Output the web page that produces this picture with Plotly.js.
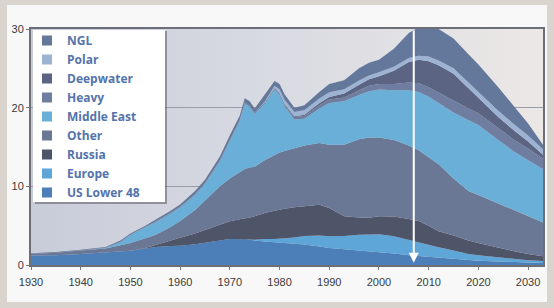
<!DOCTYPE html>
<html>
<head>
<meta charset="utf-8">
<script src="https://cdn.plot.ly/plotly-3.0.1.min.js"></script>
<style>
  html, body { margin:0; padding:0; background:#d9d4ce; }
  #wrap { position:relative; width:554px; height:308px; background:#d9d4ce; overflow:hidden; }
  #inner { position:absolute; left:7px; top:5px; width:540px; height:297px; background:#f8f8f8; }
  #chart { position:absolute; left:0; top:0; width:554px; height:308px; }
</style>
</head>
<body>
<div id="wrap"><div id="inner"></div><div id="chart"></div></div>
<script>
// ---- data (Gb per year) ----
const years      = [1930,1935,1940,1945,1948,1950,1953,1955,1958,1960,1963,1965,1968,1970,1972,1973,1974,1975,1977,1979,1980,1981,1983,1985,1988,1990,1993,1996,1998,2000,2003,2006,2008,2010,2012,2015,2018,2020,2024,2027,2030,2033];
const usLower48  = [1.2,1.25,1.4,1.6,1.75,1.8,2.1,2.3,2.4,2.45,2.65,2.8,3.1,3.3,3.3,3.3,3.2,3.1,3.0,2.9,2.85,2.8,2.7,2.6,2.35,2.15,2.0,1.85,1.7,1.6,1.45,1.25,1.15,1.0,0.9,0.75,0.6,0.55,0.45,0.38,0.3,0.25];
const europe     = [0,0,0,0,0,0,0,0,0,0,0,0,0,0,0,0.02,0.05,0.1,0.3,0.4,0.5,0.6,0.8,1.1,1.4,1.5,1.7,2.0,2.2,2.3,2.2,1.9,1.7,1.5,1.35,1.1,0.8,0.7,0.5,0.4,0.3,0.25];
const russia     = [0,0,0,0,0,0,0.05,0.2,0.6,1.0,1.35,1.65,1.95,2.25,2.5,2.58,2.8,3.0,3.3,3.6,3.7,3.75,3.85,3.8,3.9,3.6,2.5,2.2,2.1,2.3,2.5,2.7,2.75,2.5,2.05,1.9,1.7,1.55,1.25,1.0,0.8,0.6];
const other      = [0.2,0.3,0.45,0.5,0.75,1.0,1.25,1.3,1.8,2.15,3.0,3.75,4.95,5.45,6.0,6.3,6.35,6.3,6.7,7.1,7.25,7.35,7.55,7.7,7.85,8.05,9.1,9.95,10.2,10.0,9.75,9.35,9.0,8.7,8.5,7.25,6.3,6.1,5.6,5.22,4.8,4.3];
const middleEast = [0,0,0,0.05,0.4,1.0,1.4,1.6,1.7,1.7,1.9,2.1,3.2,4.8,6.5,8.3,7.7,6.7,7.2,8.3,7.3,5.7,3.6,3.4,4.4,5.3,5.5,5.6,5.9,6.1,6.3,7.0,7.4,7.7,7.8,8.4,9.0,8.9,8.1,7.5,7.1,6.8];
const heavy      = [0.02,0.02,0.02,0.03,0.05,0.05,0.05,0.1,0.1,0.1,0.1,0.1,0.1,0.15,0.15,0.15,0.15,0.15,0.15,0.2,0.2,0.25,0.3,0.35,0.4,0.45,0.5,0.6,0.7,0.7,0.8,1.0,1.1,1.2,1.3,1.5,1.5,1.5,1.5,1.5,1.5,1.3];
const deepwater  = [0,0,0,0,0,0,0,0,0,0,0,0,0,0,0,0,0,0,0,0,0.05,0.05,0.1,0.15,0.25,0.3,0.5,0.7,0.8,1.0,1.7,2.6,3.0,3.3,3.5,3.4,2.6,1.9,1.4,1.2,0.9,0.5];
const polar      = [0,0,0,0,0,0,0,0,0,0,0,0,0,0,0,0,0,0,0.1,0.3,0.5,0.5,0.55,0.6,0.6,0.6,0.55,0.55,0.5,0.5,0.5,0.5,0.5,0.6,0.6,0.7,0.7,0.8,0.8,0.8,0.75,0.7];
const ngl        = [0.08,0.08,0.08,0.12,0.15,0.15,0.15,0.2,0.25,0.3,0.4,0.45,0.5,0.55,0.55,0.55,0.55,0.55,0.85,0.6,0.65,0.7,0.55,0.6,0.85,1.05,1.15,1.55,1.6,1.6,2.3,3.2,3.6,3.8,4.0,3.8,3.6,3.5,3.0,2.3,1.55,0.6];

const seriesNames  = ['US Lower 48','Europe','Russia','Other','Middle East','Heavy','Deepwater','Polar','NGL'];
const seriesValues = [usLower48, europe, russia, other, middleEast, heavy, deepwater, polar, ngl];
const seriesColors = ['#4c7eb8','#5ea5d8','#4f5569','#6a7896','#69afd7','#6e7da0','#5b6583','#9cb3d4','#64789b'];

const xTicks = [1930,1940,1950,1960,1970,1980,1990,2000,2010,2020,2030];
const yTicks = [0,10,20,30];
const markerYear = 2007;

// ---- layout helpers (pixel -> paper) ----
const L = 31, R = 543, T = 29, B = 265, W = 554, H = 308;
const px = v => (v - L) / (R - L);
const py = v => (B - v) / (B - T);

const traces = [];
seriesNames.forEach((n, i) => {
  traces.push({
    x: years, y: seriesValues[i], type: 'scatter', mode: 'lines',
    stackgroup: 'oil', line: { width: 0 }, fillcolor: seriesColors[i],
    name: n, showlegend: false, hoverinfo: 'skip'
  });
});
// legend entries (top of stack first)
for (let i = seriesNames.length - 1; i >= 0; i--) {
  traces.push({
    x: [null], y: [null], type: 'scatter', mode: 'markers',
    marker: { symbol: 'square', size: 10, color: seriesColors[i] },
    name: seriesNames[i], showlegend: true
  });
}

const bgSvg = "<svg xmlns='http://www.w3.org/2000/svg' width='512' height='236'><defs><linearGradient id='g' x1='0' x2='1' y1='0' y2='0'><stop offset='0' stop-color='#c8ccd9'/><stop offset='0.45' stop-color='#d8dae2'/><stop offset='1' stop-color='#ebe7e5'/></linearGradient></defs><rect width='512' height='236' fill='url(#g)'/></svg>";

const layout = {
  width: W, height: H,
  margin: { l: L, r: W - R, t: T, b: H - B, pad: 0 },
  paper_bgcolor: 'rgba(0,0,0,0)',
  plot_bgcolor: 'rgba(0,0,0,0)',
  showlegend: true,
  images: [{
    source: 'data:image/svg+xml;charset=utf-8,' + encodeURIComponent(bgSvg),
    xref: 'paper', yref: 'paper', x: 0, y: 1, sizex: 1, sizey: 1,
    xanchor: 'left', yanchor: 'top', sizing: 'stretch', layer: 'below'
  }],
  xaxis: {
    range: [1930, 2033], tickvals: xTicks, ticktext: xTicks.map(String),
    showgrid: false, zeroline: false,
    showline: true, linecolor: '#6d6f78', linewidth: 2, mirror: true,
    ticks: 'outside', ticklen: 3, tickcolor: '#777', tickwidth: 1,
    ticklabelstandoff: 3,
    tickfont: { family: 'Liberation Sans, Arial, sans-serif', size: 11, color: '#3a3a3a' }
  },
  yaxis: {
    range: [0, 30], tickvals: yTicks, ticktext: yTicks.map(String),
    showgrid: true, gridcolor: '#9a9ca6', gridwidth: 1, zeroline: false,
    showline: true, linecolor: '#6d6f78', linewidth: 2, mirror: true,
    ticks: 'outside', ticklen: 3, tickcolor: '#777', tickwidth: 1,
    tickfont: { family: 'Liberation Sans, Arial, sans-serif', size: 11, color: '#3a3a3a' }
  },
  legend: {
    x: px(27), y: py(207), xanchor: 'left', yanchor: 'bottom',
    maxheight: 300,
    bgcolor: 'rgba(0,0,0,0)', borderwidth: 0, traceorder: 'normal',
    font: { family: 'Open Sans, sans-serif', size: 12, color: '#5473ab', weight: 'bold' },
    itemclick: false, itemdoubleclick: false
  },
  shapes: [
    { type: 'rect', xref: 'paper', yref: 'paper', layer: 'above',
      x0: px(35), x1: px(167), y0: py(204), y1: py(31),
      fillcolor: 'rgba(90,90,100,0.55)', line: { width: 0 } },
    { type: 'rect', xref: 'paper', yref: 'paper', layer: 'above',
      x0: px(33), x1: px(165), y0: py(202), y1: py(30),
      fillcolor: '#ffffff', line: { width: 0 } }
  ],
  annotations: [{
    x: markerYear, y: 0.3, xref: 'x', yref: 'y',
    ax: markerYear, ay: 30, axref: 'x', ayref: 'y',
    showarrow: true, arrowhead: 2, arrowsize: 1, arrowwidth: 2,
    arrowcolor: '#ffffff', text: ''
  }]
};

Plotly.newPlot('chart', traces, layout, { staticPlot: true, displayModeBar: false });
</script>
</body>
</html>
